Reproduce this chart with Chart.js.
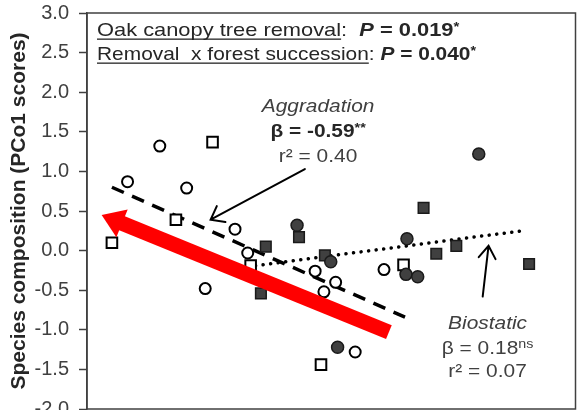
<!DOCTYPE html>
<html>
<head>
<meta charset="utf-8">
<script src="https://cdn.jsdelivr.net/npm/chart.js@4.4.1/dist/chart.umd.min.js"></script>
<style>
  html, body { margin: 0; padding: 0; background: #fff; overflow: hidden; }
  #wrap { position: relative; width: 585px; height: 421px; }
</style>
</head>
<body>
<div id="wrap"><canvas id="chart"></canvas></div>
<script>
// plots: x = position along the (unlabelled) gradient, y = PCo1 score
const openCircleX = [8.3, 14.9, 20.4, 30.3, 32.9, 24.2, 46.7, 50.9, 48.5, 60.8, 54.9];
const openCircleY = [0.87, 1.32, 0.79, 0.27, -0.03, -0.48, -0.26, -0.40, -0.52, -0.24, -1.28];
const filledCircleX = [80.2, 43.0, 65.5, 49.9, 65.3, 67.7, 51.3];
const filledCircleY = [1.22, 0.32, 0.15, -0.14, -0.30, -0.33, -1.22];
const openSquareX = [5.1, 25.7, 18.2, 33.5, 64.8, 47.9];
const openSquareY = [0.10, 1.37, 0.39, -0.19, -0.18, -1.44];
const filledSquareX = [36.6, 43.4, 35.6, 48.7, 68.9, 71.5, 75.6, 90.5];
const filledSquareY = [0.05, 0.17, -0.54, -0.06, 0.54, -0.04, 0.06, -0.17];

// fitted lines (end points)
const aggradationFitX = [5.1, 65.1];
const aggradationFitY = [0.80, -0.84];
const biostaticFitX = [34.5, 89.1];
const biostaticFitY = [-0.19, 0.25];

// big red arrow (tail -> tip)
const trendArrowX = [61.8, 3.0];
const trendArrowY = [-1.03, 0.45];

const yTicks = [-2.0, -1.5, -1.0, -0.5, 0.0, 0.5, 1.0, 1.5, 2.0, 2.5, 3.0];

const FONT = "'Liberation Sans', Arial, sans-serif";

function pts(xs, ys) {
    return xs.map((x, i) => ({ x: x, y: ys[i] }));
}

// draws a line of mixed-style text, stretched a little horizontally like the original
function drawRich(ctx, parts, x, y, align, sx) {
    let total = 0;
    parts.forEach(p => {
        ctx.font = p.font;
        p.w = ctx.measureText(p.t).width * sx;
        total += p.w;
    });
    let cx = align === 'center' ? x - total / 2 : x;
    parts.forEach(p => {
        ctx.font = p.font;
        ctx.save();
        ctx.translate(cx, y + (p.dy || 0));
        ctx.scale(sx, 1);
        ctx.fillText(p.t, 0, 0);
        ctx.restore();
        if (p.u) {
            ctx.fillRect(cx, y + 2.5, p.w, 1.3);
        }
        cx += p.w;
    });
}

function openArrow(ctx, x1, y1, x2, y2, len, ang) {
    const a = Math.atan2(y2 - y1, x2 - x1);
    ctx.beginPath();
    ctx.moveTo(x1, y1);
    ctx.lineTo(x2, y2);
    ctx.moveTo(x2 - len * Math.cos(a - ang), y2 - len * Math.sin(a - ang));
    ctx.lineTo(x2, y2);
    ctx.lineTo(x2 - len * Math.cos(a + ang), y2 - len * Math.sin(a + ang));
    ctx.stroke();
}

const frame = {
    id: 'frame',
    beforeDatasetsDraw(chart) {
        const { ctx, chartArea: a } = chart;
        ctx.save();
        ctx.strokeStyle = '#404040';
        ctx.lineWidth = 1.5;
        ctx.strokeRect(a.left, a.top, a.right - a.left, a.bottom - a.top);
        ctx.restore();
    }
};

const notes = {
    id: 'notes',
    afterDatasetsDraw(chart) {
        const { ctx, chartArea: a } = chart;
        const xs = chart.scales.x, ys = chart.scales.y;
        const px = v => xs.getPixelForValue(v);
        const py = v => ys.getPixelForValue(v);

        ctx.save();
        // red arrow
        const x1 = px(trendArrowX[0]), y1 = py(trendArrowY[0]);
        const x2 = px(trendArrowX[1]), y2 = py(trendArrowY[1]);
        const ang = Math.atan2(y2 - y1, x2 - x1);
        const headLen = 22, headW = 15;
        const bx = x2 - headLen * Math.cos(ang), by = y2 - headLen * Math.sin(ang);
        ctx.strokeStyle = '#ff0000';
        ctx.fillStyle = '#ff0000';
        ctx.lineWidth = 15;
        ctx.lineCap = 'butt';
        ctx.beginPath();
        ctx.moveTo(x1, y1);
        ctx.lineTo(bx + 2 * Math.cos(ang), by + 2 * Math.sin(ang));
        ctx.stroke();
        ctx.beginPath();
        ctx.moveTo(x2, y2);
        ctx.lineTo(bx + headW * Math.sin(ang), by - headW * Math.cos(ang));
        ctx.lineTo(bx - headW * Math.sin(ang), by + headW * Math.cos(ang));
        ctx.closePath();
        ctx.fill();

        // black pointer arrows
        ctx.strokeStyle = '#000';
        ctx.lineWidth = 2;
        ctx.lineCap = 'round';
        openArrow(ctx, px(44.6), py(1.03), px(25.3), py(0.39), 15, 0.65);
        openArrow(ctx, px(81.0), py(-0.58), px(82.2), py(0.06), 15, 0.6);

        // header
        ctx.fillStyle = '#262626';
        ctx.textBaseline = 'alphabetic';
        const reg = '19px ' + FONT, bold = 'bold 19px ' + FONT, bi = 'italic bold 19px ' + FONT;
        const it = 'italic 19px ' + FONT, supB = 'bold 13px ' + FONT, sup = '13px ' + FONT;
        drawRich(ctx, [
            { t: 'Oak canopy tree removal', font: reg, u: true },
            { t: ':  ', font: reg },
            { t: 'P', font: bi },
            { t: ' = 0.019', font: bold },
            { t: '*', font: supB, dy: -5 }
        ], a.left + 10, a.top + 23, 'left', 1.15);
        drawRich(ctx, [
            { t: 'Removal  x forest succession', font: reg, u: true },
            { t: ': ', font: reg },
            { t: 'P', font: bi },
            { t: ' = 0.040', font: bold },
            { t: '*', font: supB, dy: -5 }
        ], a.left + 10, a.top + 47, 'left', 1.1);

        // fit labels
        ctx.fillStyle = '#404040';
        drawRich(ctx, [{ t: 'Aggradation', font: it }], px(47.3), py(1.75), 'center', 1.1);
        ctx.fillStyle = '#262626';
        drawRich(ctx, [
            { t: '\u03b2 = -0.59', font: bold },
            { t: '**', font: supB, dy: -5 }
        ], px(47.3), py(1.43), 'center', 1.1);
        ctx.fillStyle = '#404040';
        drawRich(ctx, [{ t: 'r\u00b2 = 0.40', font: reg }], px(47.3), py(1.12), 'center', 1.1);

        drawRich(ctx, [{ t: 'Biostatic', font: it }], px(82.0), py(-0.99), 'center', 1.1);
        drawRich(ctx, [
            { t: '\u03b2 = 0.18', font: reg },
            { t: 'ns', font: sup, dy: -6 }
        ], px(82.0), py(-1.31), 'center', 1.1);
        drawRich(ctx, [{ t: 'r\u00b2 = 0.07', font: reg }], px(82.0), py(-1.60), 'center', 1.1);
        ctx.restore();
    }
};

new Chart(document.getElementById('chart'), {
    type: 'scatter',
    data: {
        datasets: [
            {
                label: 'Open circles',
                data: pts(openCircleX, openCircleY),
                pointStyle: 'circle',
                pointRadius: 5.5,
                backgroundColor: '#ffffff',
                borderColor: '#000000',
                borderWidth: 2,
            },
            {
                label: 'Filled circles',
                data: pts(filledCircleX, filledCircleY),
                pointStyle: 'circle',
                pointRadius: 6,
                backgroundColor: '#404040',
                borderColor: '#1a1a1a',
                borderWidth: 1.5,
            },
            {
                label: 'Open squares',
                data: pts(openSquareX, openSquareY),
                pointStyle: 'rect',
                pointRadius: 7.5,
                backgroundColor: '#ffffff',
                borderColor: '#000000',
                borderWidth: 2,
            },
            {
                label: 'Filled squares',
                data: pts(filledSquareX, filledSquareY),
                pointStyle: 'rect',
                pointRadius: 7.5,
                backgroundColor: '#404040',
                borderColor: '#1a1a1a',
                borderWidth: 1.5,
            },
            {
                label: 'Aggradation fit',
                type: 'line',
                data: pts(aggradationFitX, aggradationFitY),
                showLine: true,
                pointRadius: 0,
                borderColor: '#000000',
                borderWidth: 3.5,
                borderDash: [13, 9],
            },
            {
                label: 'Biostatic fit',
                type: 'line',
                data: pts(biostaticFitX, biostaticFitY),
                showLine: true,
                pointRadius: 0,
                borderColor: '#000000',
                borderWidth: 3.5,
                borderCapStyle: 'round',
                borderDash: [0.1, 7.5],
            },
        ],
    },
    options: {
        responsive: true,
        maintainAspectRatio: false,
        animation: false,
        layout: { padding: { top: 13, right: 3, bottom: 12, left: 0 } },
        plugins: {
            legend: { display: false },
            tooltip: { enabled: false },
        },
        scales: {
            x: { type: 'linear', min: 0, max: 100, display: false },
            y: {
                min: -2,
                max: 3,
                afterBuildTicks: s => { s.ticks = yTicks.map(v => ({ value: v })); },
                afterFit: s => {
                    s.width = 87;
                    s.paddingTop = 10;
                    s.paddingBottom = 10;
                },
                ticks: {
                    color: '#404040',
                    padding: 10,
                    font: { family: FONT, size: 20 },
                    callback: v => v.toFixed(1),
                },
                grid: {
                    drawOnChartArea: false,
                    tickLength: 8,
                    tickColor: '#404040',
                    tickWidth: 1.5,
                },
                border: { color: '#404040', width: 1.5 },
                title: {
                    display: true,
                    text: 'Species composition (PCo1 scores)',
                    color: '#262626',
                    font: { family: FONT, size: 21, weight: 'bold' },
                    padding: { top: 7, bottom: 0 },
                },
            },
        },
    },
    plugins: [frame, notes],
});
</script>
</body>
</html>
